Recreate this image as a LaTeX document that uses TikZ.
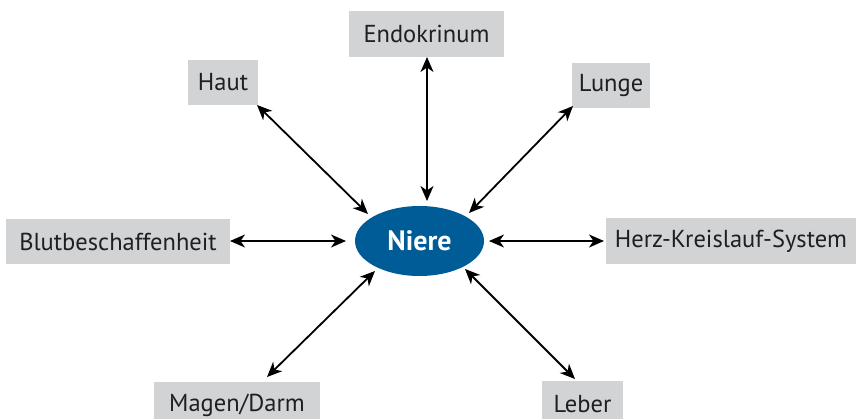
\documentclass[tikz,border=0pt]{standalone}
\usepackage{fontspec}
\setmainfont{PT Sans}
\usetikzlibrary{arrows.meta,shapes.geometric}
\definecolor{boxgray}{RGB}{210,211,213}
\definecolor{nierblue}{RGB}{0,92,150}
\begin{document}
\begin{tikzpicture}[x=1pt,y=-1pt,
  organ/.style={fill=boxgray,inner sep=0pt,font=\fontsize{24.5}{26}\selectfont,text=black!88},
  arr/.style={line width=1.8pt,{Stealth[length=15pt,width=13pt,inset=4.5pt]}-{Stealth[length=15pt,width=13pt,inset=4.5pt]}}]
\useasboundingbox (0,0) rectangle (856,419);
\node[fill=nierblue,ellipse,minimum width=129pt,minimum height=70pt,inner sep=0pt,text=white,font=\fontsize{28}{30}\selectfont\bfseries] (niere) at (419.5,241) {Niere};
\node[organ,minimum width=155pt,minimum height=46pt] (endo) at (426.5,34) {Endokrinum};
\node[organ,minimum width=70pt,minimum height=45pt] (haut) at (223,82.5) {Haut};
\node[organ,minimum width=78pt,minimum height=45pt] (lunge) at (611,85.5) {Lunge};
\node[organ,minimum width=224pt,minimum height=45pt] (blut) at (118,241.5) {Blutbeschaffenheit};
\node[organ,minimum width=250pt,minimum height=46pt] (herz) at (731,241) {Herz-Kreislauf-System};
\node[organ,minimum width=166pt,minimum height=46pt] (magen) at (237,405) {Magen/Darm};
\node[organ,minimum width=81pt,minimum height=46pt] (leber) at (582.5,404) {Leber};
\coordinate (e1) at (427,57); \coordinate (e2) at (427,201);
\coordinate (h1) at (257,105); \coordinate (h2) at (368,214);
\coordinate (l1) at (573,106); \coordinate (l2) at (469,213);
\coordinate (b1) at (230,241); \coordinate (b2) at (346,241);
\coordinate (k1) at (489,241); \coordinate (k2) at (604,241);
\coordinate (m1) at (267,377); \coordinate (m2) at (375,271);
\coordinate (r1) at (465,269); \coordinate (r2) at (575,379);
\draw[arr] (e1) -- (e2);
\draw[arr] (h1) -- (h2);
\draw[arr] (l1) -- (l2);
\draw[arr] (b1) -- (b2);
\draw[arr] (k1) -- (k2);
\draw[arr] (m1) -- (m2);
\draw[arr] (r1) -- (r2);
\end{tikzpicture}
\end{document}
